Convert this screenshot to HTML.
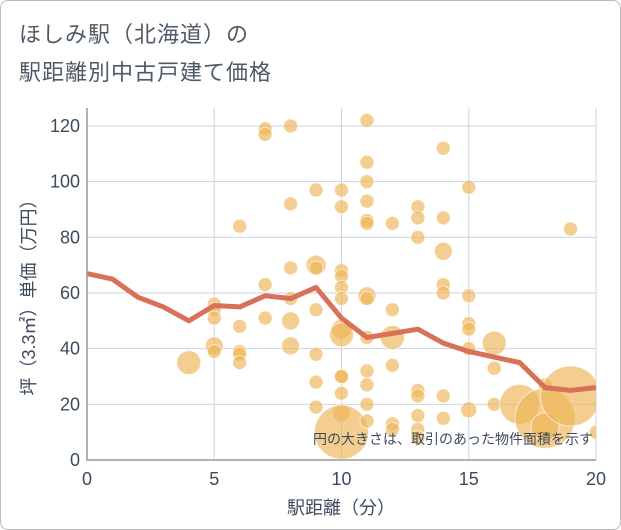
<!DOCTYPE html>
<html><head><meta charset="utf-8"><style>
body{margin:0;background:#fff;font-family:"Liberation Sans","Noto Sans CJK JP",sans-serif;}
#wrap{position:relative;width:619px;height:528px;border:1px solid #bbb;border-radius:8px;overflow:hidden;background:#fff}
.title{position:absolute;left:18px;font-size:22px;color:#4f5a66;letter-spacing:1px}
</style></head><body>
<div id="wrap">
<div class="title" style="top:16px">ほしみ駅（北海道）の</div>
<div class="title" style="top:54px">駅距離別中古戸建て価格</div>
<svg id="chart" width="621" height="530" style="position:absolute;left:-1px;top:-1px"></svg>
</div>
<script>
const xTicks=[0,5,10,15,20];
const yTicks=[0,20,40,60,80,100,120];
const pointX=[4,5,5,5,5,5,6,6,6,6,6,7,7,7,7,8,8,8,8,8,8,9,9,9,9,9,9,9,10,10,10,10,10,10,10,10,10,10,10,10,10,11,11,11,11,11,11,11,11,11,11,11,11,11,12,12,12,12,12,12,13,13,13,13,13,13,13,13,14,14,14,14,14,14,14,15,15,15,15,15,15,16,16,16,17,18,18,18,19,19,20];
const pointY=[35,56,54,51,41,39,84,48,39,38,35,119,117,63,51,120,92,69,58,50,41,97,70,69,54,38,28,19,97,91,68,66,62,58,47,45,30,30,24,17,10,122,107,100,93,86,85,59,58,44,32,27,20,14,85,54,44,34,13,11,91,87,80,25,23,16,11,8,112,87,75,63,60,23,15,98,59,49,47,40,18,42,33,20,20,15,12,27,83,23,10];
const pointR=[12,7,7,7,9,7,7,7,7,7,7,7,7,7,7,7,7,7,7,9,9,7,10,7,7,7,7,7,7,7,7,7,7,7,10,12,7,7,7,9,27,7,7,7,7,7,7,9,7,7,7,7,7,7,7,7,12,7,7,7,7,7,7,7,7,7,7,7,7,7,9,7,7,7,7,7,7,7,7,7,8,12,7,7,20,30,14,7,7,30,7];
const lineX=[0,1,2,3,4,5,6,7,8,9,10,11,12,13,14,15,16,17,18,19,20];
const lineY=[67,65,58.5,55,50,55.5,55,59,58,62,51,44,45.5,47,42,39,37,35,26,25,26];
const NS="http://www.w3.org/2000/svg";
const svg=document.getElementById('chart');
const X0=87,X1=596,Y0=460,Y1=126;
const sx=v=>X0+v/20*(X1-X0);
const syv=v=>Y0-v/120*(Y0-Y1);
function mk(t,a){const e=document.createElementNS(NS,t);for(const k in a)e.setAttribute(k,a[k]);svg.appendChild(e);return e;}
const clip=mk('clipPath',{id:'pc'});
const cr=document.createElementNS(NS,'rect');cr.setAttribute('x',X0);cr.setAttribute('y',108);cr.setAttribute('width',X1-X0);cr.setAttribute('height',Y0-108);clip.appendChild(cr);
for(const t of yTicks){
 const l=mk('line',{x1:X0,x2:X1,y1:syv(t),y2:syv(t),stroke:'#c9d5e2','stroke-width':1});
 
 
 const tx=mk('text',{x:80,y:syv(t)+6,'text-anchor':'end','font-size':18,fill:'#3d4b5c'});
 tx.textContent=t;
 
 
}
for(const t of xTicks){
 const l=mk('line',{x1:sx(t),x2:sx(t),y1:108,y2:Y0,stroke:'#c9d5e2','stroke-width':1});
 
 
 const tx=mk('text',{x:sx(t),y:485,'text-anchor':'middle','font-size':18,fill:'#3d4b5c'});
 tx.textContent=t;
 
 
}
const g=mk('g',{'clip-path':'url(#pc)'});
for(let i=0;i<pointX.length;i++){
 const c=document.createElementNS(NS,'circle');
 c.setAttribute('cx',sx(pointX[i]));c.setAttribute('cy',syv(pointY[i]));c.setAttribute('r',pointR[i]);
 c.setAttribute('fill','rgba(238,180,85,0.65)');c.setAttribute('stroke','rgba(255,255,255,0.6)');c.setAttribute('stroke-width',1);
 
 
 g.appendChild(c);
}
const pl=document.createElementNS(NS,'polyline');
pl.setAttribute('points',lineX.map((x,i)=>sx(x)+','+syv(lineY[i])).join(' '));
pl.setAttribute('fill','none');pl.setAttribute('stroke','#d9705a');pl.setAttribute('stroke-width',5);pl.setAttribute('stroke-linejoin','round');


g.appendChild(pl);
const ax=mk('polyline',{points:`${X0},108 ${X0},${Y0} ${X1},${Y0}`,fill:'none',stroke:'#999','stroke-width':1.5});


const note=mk('text',{x:593,y:444,'text-anchor':'end','font-size':14,fill:'#3d4b5c'});
note.textContent='円の大きさは、取引のあった物件面積を示す';


const xt=mk('text',{x:341,y:514,'text-anchor':'middle','font-size':18,fill:'#3d4b5c'});
xt.textContent='駅距離（分）';


const yt=mk('text',{x:0,y:0,'text-anchor':'middle','font-size':18,fill:'#3d4b5c',transform:'translate(35,293) rotate(-90)'});
yt.textContent='坪（3.3㎡）単価（万円）';


</script>
</body></html>
